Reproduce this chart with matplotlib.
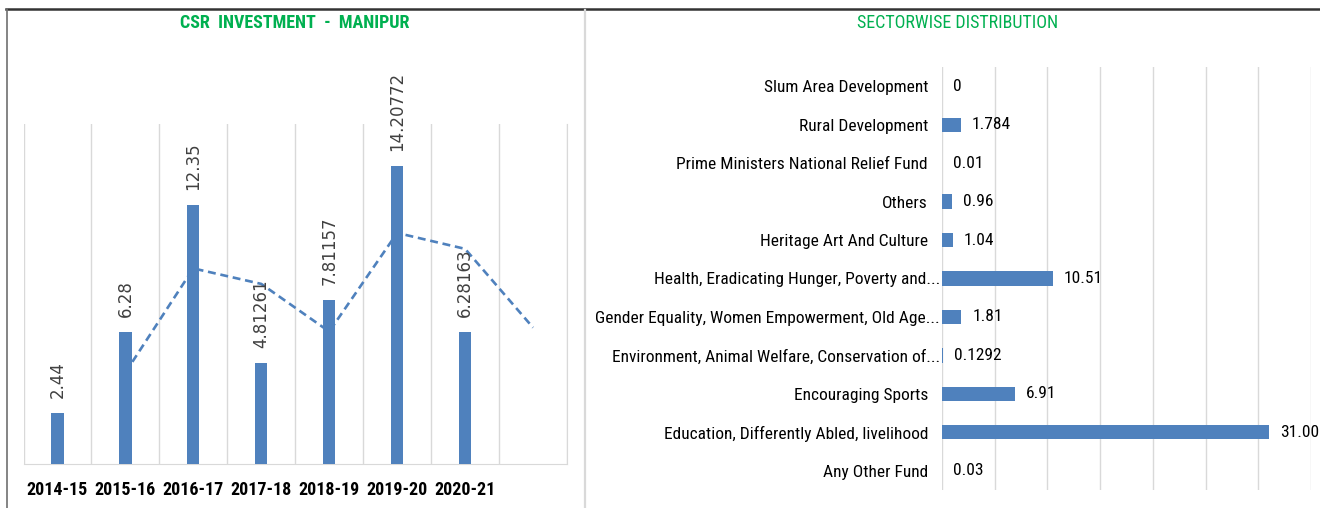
import os
import matplotlib
matplotlib.use('Agg')
import matplotlib.pyplot as plt
from matplotlib import font_manager
from matplotlib.font_manager import FontProperties
from matplotlib.lines import Line2D

# left chart: yearly CSR spend
years = ['2014-15', '2015-16', '2016-17', '2017-18', '2018-19', '2019-20', '2020-21', '']
invest = [2.44, 6.28, 12.35, 4.81261, 7.81157, 14.20772, 6.28163]
# dashed trend line (2 period moving average)
trend_x = [1, 2, 3, 4, 5, 6, 7]
trend_y = [4.36, 9.32, 8.58, 6.31, 11.01, 10.25, 6.5]

# right chart: sector split, top to bottom
sectors = ['Slum Area Development', 'Rural Development',
           'Prime Ministers National Relief Fund', 'Others',
           'Heritage Art And Culture', 'Health, Eradicating Hunger, Poverty and...',
           'Gender Equality, Women Empowerment, Old Age...',
           'Environment, Animal Welfare, Conservation of...',
           'Encouraging Sports', 'Education, Differently Abled, livelihood',
           'Any Other Fund']
amounts = [0, 1.784, 0.01, 0.96, 1.04, 10.51, 1.81, 0.1292, 6.91, 31.00, 0.03]
amount_labels = ['0', '1.784', '0.01', '0.96', '1.04', '10.51', '1.81', '0.1292', '6.91', '31.00', '0.03']


# the original uses a narrow Calibri-ish face; look for any condensed font file
def find_narrow(bold):
    files = [f for f in font_manager.fontManager.ttflist
             if ('Condensed' in os.path.basename(f.fname) or 'Narrow' in os.path.basename(f.fname))
             and 'Extra' not in os.path.basename(f.fname) and 'Semi' not in os.path.basename(f.fname)
             and 'Italic' not in os.path.basename(f.fname)]
    for pref in ['Liberation Sans Narrow', 'Noto Sans', 'Roboto', 'Open Sans', 'DejaVu Sans', '']:
        for f in files:
            if f.name.startswith(pref) and f.style == 'normal':
                w = f.weight if isinstance(f.weight, int) else (700 if 'bold' in str(f.weight) else 400)
                if (bold and w == 700) or (not bold and w == 400):
                    return FontProperties(fname=f.fname)
    return None


REG = find_narrow(False)
BOLD = find_narrow(True)
K = 1.0
if REG is None:
    REG = FontProperties(family='DejaVu Sans')
    K = 0.8
if BOLD is None:
    BOLD = FontProperties(family=REG.get_family(), weight='bold') if REG.get_file() is None else REG

BLUE = '#4F81BD'
GREEN = '#00B050'
GRID = '#D9D9D9'
W, H = 1320, 508

fig = plt.figure(figsize=(W / 100, H / 100), dpi=100)

# outer frame lines
fig.add_artist(Line2D([6 / W, 1], [1 - 8.5 / H] * 2, color='#333333', lw=1.8))
fig.add_artist(Line2D([7 / W] * 2, [0, 1 - 8.5 / H], color='#707070', lw=1.2))
fig.add_artist(Line2D([585 / W] * 2, [0, 1 - 9.5 / H], color=GRID, lw=1.6))

# ---- left: bars + moving average
ax = fig.add_axes([23.5 / W, 44 / H, 543.5 / W, 340 / H])
xs = list(range(len(invest)))
ax.bar(xs, invest, width=0.18, color=BLUE, zorder=3)
ax.plot(trend_x, trend_y, color=BLUE, lw=1.9, dashes=(3, 1.8), zorder=2)
for x, v in zip(xs, invest):
    ax.annotate(str(v), (x, v), xytext=(0, 11), textcoords='offset points',
                rotation=90, ha='center', va='bottom', fontsize=12,
                color='#404040', family='DejaVu Sans')
ax.set_xlim(-0.5, len(years) - 0.5)
ax.set_ylim(0, 16.2)
ax.set_xticks(range(len(years)))
ax.set_xticklabels(years, fontproperties=BOLD, fontsize=13 * K, color='black')
ax.set_xticks([i - 0.5 for i in range(len(years) + 1)], minor=True)
ax.tick_params(axis='x', which='both', length=0, pad=12)
ax.set_yticks([])
ax.grid(axis='x', which='minor', color=GRID, lw=1, zorder=0)
for s in ['top', 'left']:
    ax.spines[s].set_visible(False)
ax.spines['bottom'].set_color(GRID)
ax.spines['right'].set_color(GRID)
fig.text(295 / W, 1 - 23 / H, 'CSR  INVESTMENT  -  MANIPUR', color=GREEN,
         fontproperties=BOLD, fontsize=13 * K, ha='center', va='center')

# ---- right: horizontal bars
ax2 = fig.add_axes([942 / W, 18 / H, 369 / W, 423 / H])
ys = list(range(len(sectors)))
ax2.barh(ys, amounts, height=0.37, color=BLUE, zorder=3)
for y, v, t in zip(ys, amounts, amount_labels):
    ax2.annotate(t, (v, y), xytext=(8, 0), textcoords='offset points',
                 ha='left', va='center', fontproperties=REG, fontsize=12.5 * K, color='black')
ax2.set_xlim(0, 35)
ax2.set_ylim(len(sectors) - 0.5, -0.5)
ax2.set_xticks(range(0, 36, 5))
ax2.set_xticklabels([])
ax2.set_yticks(ys)
ax2.set_yticklabels(sectors, fontproperties=REG, fontsize=12.5 * K, color='black')
ax2.tick_params(length=0)
ax2.tick_params(axis='y', pad=10)
for tick, name in zip(ax2.yaxis.get_major_ticks(), sectors):
    if name.endswith('...'):
        tick.set_pad(1.5)
ax2.grid(axis='x', color=GRID, lw=1, zorder=0)
for s in ax2.spines.values():
    s.set_visible(False)
fig.text(958 / W, 1 - 23 / H, 'SECTORWISE DISTRIBUTION', color=GREEN,
         fontproperties=REG, fontsize=13 * K, ha='center', va='center')

fig.savefig('out.png', dpi=100)
